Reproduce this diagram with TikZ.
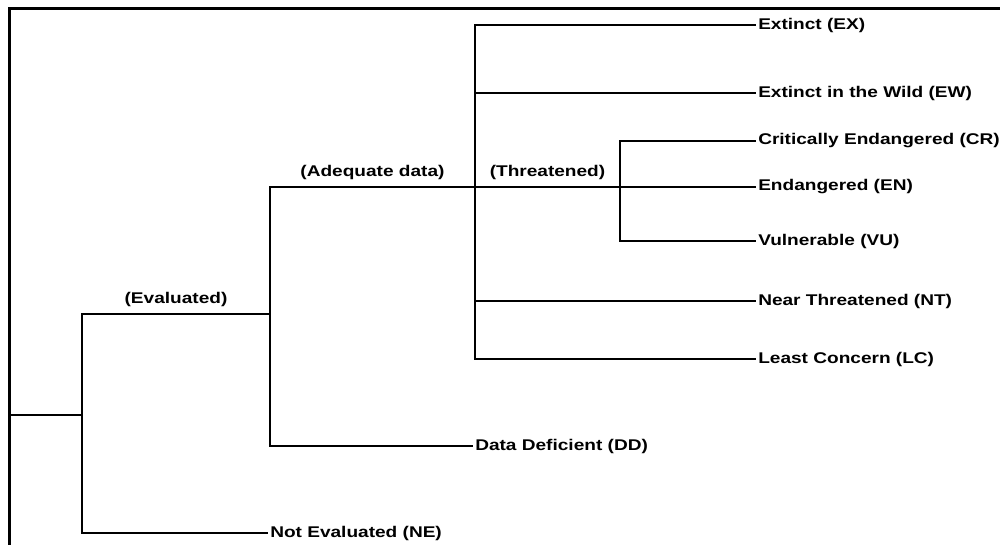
\documentclass[tikz,border=0pt]{standalone}
\usepackage{fontspec}
\newfontfamily\labelfont[FakeStretch=1.23,UprightFont={* Bold}]{Liberation Sans}
\begin{document}
\begin{tikzpicture}[x=1pt,y=-1pt,line width=2.5pt,
  every node/.style={font=\labelfont\fontsize{15.5}{18}\selectfont,inner sep=0pt},
  leaf/.style={anchor=west,inner sep=1pt}]
\useasboundingbox (0,0) rectangle (1000,545);

% frame
\draw (1000,8.5) -- (9.5,8.5) -- (9.5,545);

\coordinate (root) at (9.5,415);
\coordinate (eval) at (82,415);
\coordinate (adeq) at (270,314);
\coordinate (thr) at (475,187);
\coordinate (endg) at (620,187);

\node[leaf] (ne) at (268,533) {Not Evaluated (NE)};
\node[leaf] (dd) at (473,446) {Data Deficient (DD)};
\node[leaf] (ex) at (756,25) {Extinct (EX)};
\node[leaf] (ew) at (756,93) {Extinct in the Wild (EW)};
\node[leaf] (cr) at (756,141) {Critically Endangered (CR)};
\node[leaf] (en) at (756,187) {Endangered (EN)};
\node[leaf] (vu) at (756,241) {Vulnerable (VU)};
\node[leaf] (nt) at (756,301) {Near Threatened (NT)};
\node[leaf] (lc) at (756,359) {Least Concern (LC)};

\draw (root) -- (eval);
\draw (eval) |- (adeq) node[pos=0.75,above=6pt] {(Evaluated)};
\draw (eval) |- (ne.west);
\draw (adeq) |- (thr) node[pos=0.75,above=6pt] {(Adequate data)};
\draw (adeq) |- (dd.west);

\draw (thr) |- (ex.west);
\draw (thr) |- (ew.west);
\draw (thr) -- (endg) node[midway,above=6pt] {(Threatened)};
\draw (thr) |- (nt.west);
\draw (thr) |- (lc.west);

\draw (endg) |- (cr.west);
\draw (endg) -- (en.west);
\draw (endg) |- (vu.west);

\end{tikzpicture}
\end{document}
